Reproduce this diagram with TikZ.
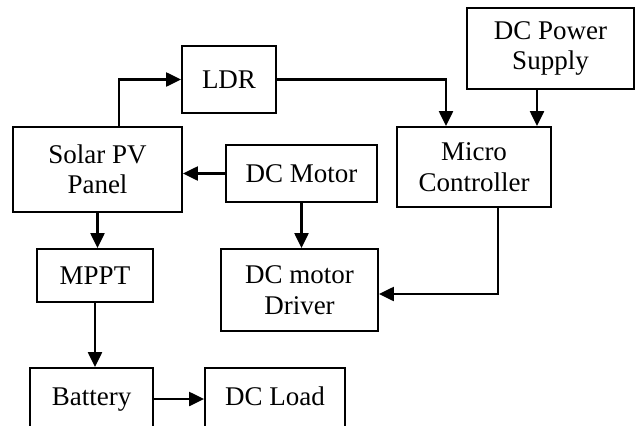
\documentclass[tikz,border=0pt]{standalone}
\usepackage{fontspec}
\setmainfont{Liberation Serif}
\usetikzlibrary{arrows.meta}
\begin{document}
\begin{tikzpicture}[x=1pt,y=-1pt,
  blk/.style={draw,line width=1.8pt,inner sep=0pt,align=center,
    font=\fontsize{27}{30.5}\selectfont},
  arr/.style={line width=2.2pt,-{Triangle[length=15pt,width=14pt]}}]
\useasboundingbox (0,0) rectangle (635,426);
\clip (0,0) rectangle (635,426);
\node[blk,minimum width=94pt,minimum height=67pt] (ldr) at (229,79.5) {LDR};
\node[blk,minimum width=169pt,minimum height=85pt] (solar) at (97.5,169.5) {Solar PV\\Panel};
\node[blk,minimum width=151pt,minimum height=57pt] (dcm) at (301.5,173.5) {DC Motor};
\node[blk,minimum width=167pt,minimum height=81pt] (dcps) at (550.5,48.5) {DC Power\\Supply};
\node[blk,minimum width=154pt,minimum height=80pt] (mc) at (474,167) {Micro\\Controller};
\node[blk,minimum width=116pt,minimum height=53pt] (mppt) at (95,275.5) {MPPT};
\node[blk,minimum width=157pt,minimum height=82pt] (drv) at (299.5,290) {DC motor\\Driver};
\node[blk,minimum width=123pt,minimum height=62pt] (bat) at (91.5,399) {\strut Battery};
\node[blk,minimum width=140pt,minimum height=62pt] (load) at (275,399) {\strut DC Load};
\draw[arr] ([xshift=21.5pt]solar.north) |- (ldr.west);
\draw[arr] (ldr.east) -| ([xshift=-28pt]mc.north);
\draw[arr] ([xshift=63pt]mc.north |- dcps.south) -- ([xshift=63pt]mc.north);
\draw[arr] (dcm.west) -- (dcm.west -| solar.east);
\draw[arr] (solar.south) -- (solar.south |- mppt.north);
\draw[arr] (mppt.south) -- (mppt.south |- bat.north);
\draw[arr] (dcm.south) -- (dcm.south |- drv.north);
\draw[arr] ([xshift=24pt]mc.south) |- ([yshift=-4pt]drv.east);
\draw[arr] (bat.east) -- (load.west);
\end{tikzpicture}
\end{document}
